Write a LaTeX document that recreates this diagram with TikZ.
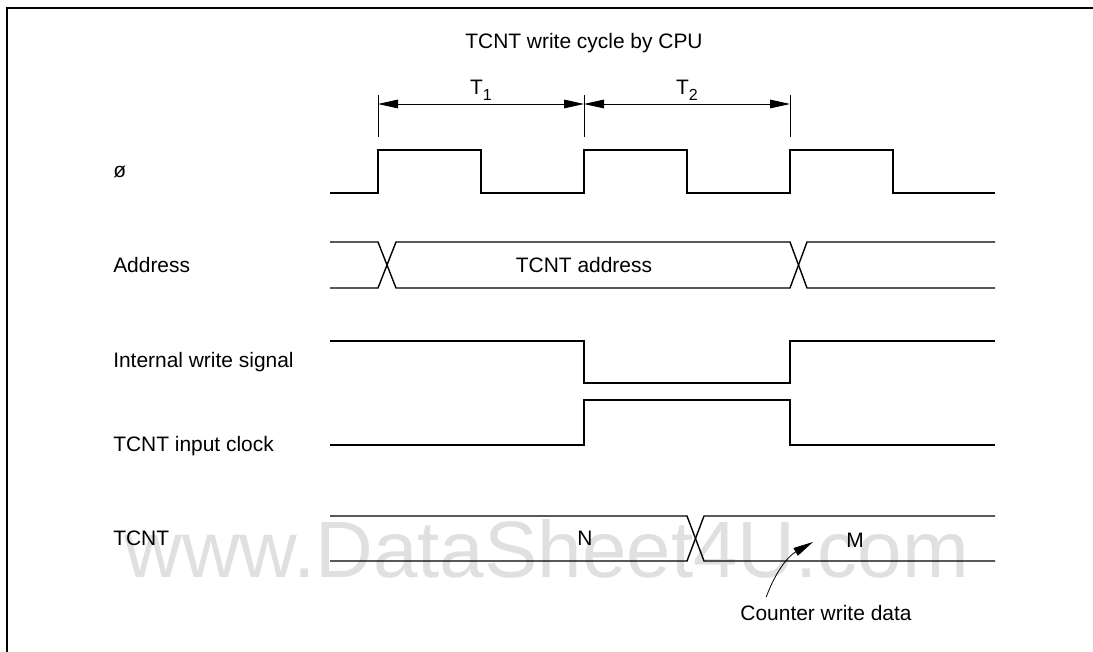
\documentclass[tikz,border=0pt]{standalone}
\usepackage{fontspec}
\setmainfont{Liberation Sans}
\usetikzlibrary{positioning, calc, arrows.meta}

\begin{document}
\begin{tikzpicture}[
        x=0.75pt, y=-0.75pt,
        signame/.style={anchor=west, inner sep=0pt, font=\fontsize{15.7}{18}\selectfont},
        txt/.style={inner sep=0pt, font=\fontsize{15.7}{18}\selectfont},
        wave/.style={line width=1.05pt, line join=miter},
        tickline/.style={line width=0.6pt},
        dim/.style={{Triangle[length=15pt,width=6.5pt]}-{Triangle[length=15pt,width=6.5pt]}, line width=0.6pt},
        pointer/.style={-{Triangle[length=15pt,width=6.5pt]}, line width=0.6pt},
        wmark/.style={anchor=base west, inner sep=0pt, text=black!12, font=\fontsize{60}{60}\selectfont}
    ]
        \useasboundingbox (0,0) rectangle (1093,652);
        % --- FRAME ---
        \draw[line width=1.2pt] (7,652) -- (7,8) -- (1093,8);

        % --- WATERMARK ---
        \node[wmark] (wm) at (124,577) {www.DataSheet4U.com};

        % --- SIGNAL NAMES ---
        \node[signame] (phi) at (113,172) {ø};
        \node[signame] (addr) at (113,265) {Address};
        \node[signame] (wr) at (113,362) {Internal write signal};
        \node[signame] (clk) at (113,446) {TCNT input clock};
        \node[signame] (cnt) at (113,538) {TCNT};

        % --- BUS CYCLE ---
        \node[txt] (title) at (584,43) {TCNT write cycle by CPU};
        \node[txt] (t1) at (481,90) {T\raisebox{-0.55ex}{\fontsize{12}{12}\selectfont 1}};
        \node[txt] (t2) at (687,90) {T\raisebox{-0.55ex}{\fontsize{12}{12}\selectfont 2}};
        \coordinate (m1) at (378,104);
        \coordinate (m2) at (584,104);
        \coordinate (m3) at (790,104);
        \draw[tickline] (378,95) -- (378,137);
        \draw[tickline] (584,95) -- (584,137);
        \draw[tickline] (790,95) -- (790,137);
        \draw[dim] (m1) -- (m2);
        \draw[dim] (m2) -- (m3);

        % --- WAVEFORMS ---
        % clock
        \draw[wave] (330,193) -- (378,193) -- (378,150) -- (481,150) -- (481,193) -- (584,193)
            -- (584,150) -- (687,150) -- (687,193) -- (790,193) -- (790,150) -- (893,150)
            -- (893,193) -- (995,193);
        % address bus
        \draw[wave] (330,242) -- (378,242) -- (396,288) -- (790,288) -- (807,242) -- (995,242);
        \draw[wave] (330,288) -- (378,288) -- (396,242) -- (790,242) -- (807,288) -- (995,288);
        \node[txt] (addrval) at (584,265) {TCNT address};
        % write strobe
        \draw[wave] (330,341) -- (584,341) -- (584,383) -- (790,383) -- (790,341) -- (995,341);
        % counter clock
        \draw[wave] (330,445) -- (584,445) -- (584,400) -- (790,400) -- (790,445) -- (995,445);
        % counter value
        \draw[wave] (330,516) -- (687,516) -- (704,561) -- (995,561);
        \draw[wave] (330,561) -- (687,561) -- (704,516) -- (995,516);
        \node[txt] (nval) at (585,538) {N};
        \node[txt] (mval) at (855,540) {M};

        % --- ANNOTATION ---
        \node[txt] (cwd) at (826,613) {Counter write data};
        \coordinate (mtip) at (813,542);
        \draw[pointer] ($(cwd.north west)+(26,-8)$) to[bend left=20] (mtip);

    \end{tikzpicture}
\end{document}
